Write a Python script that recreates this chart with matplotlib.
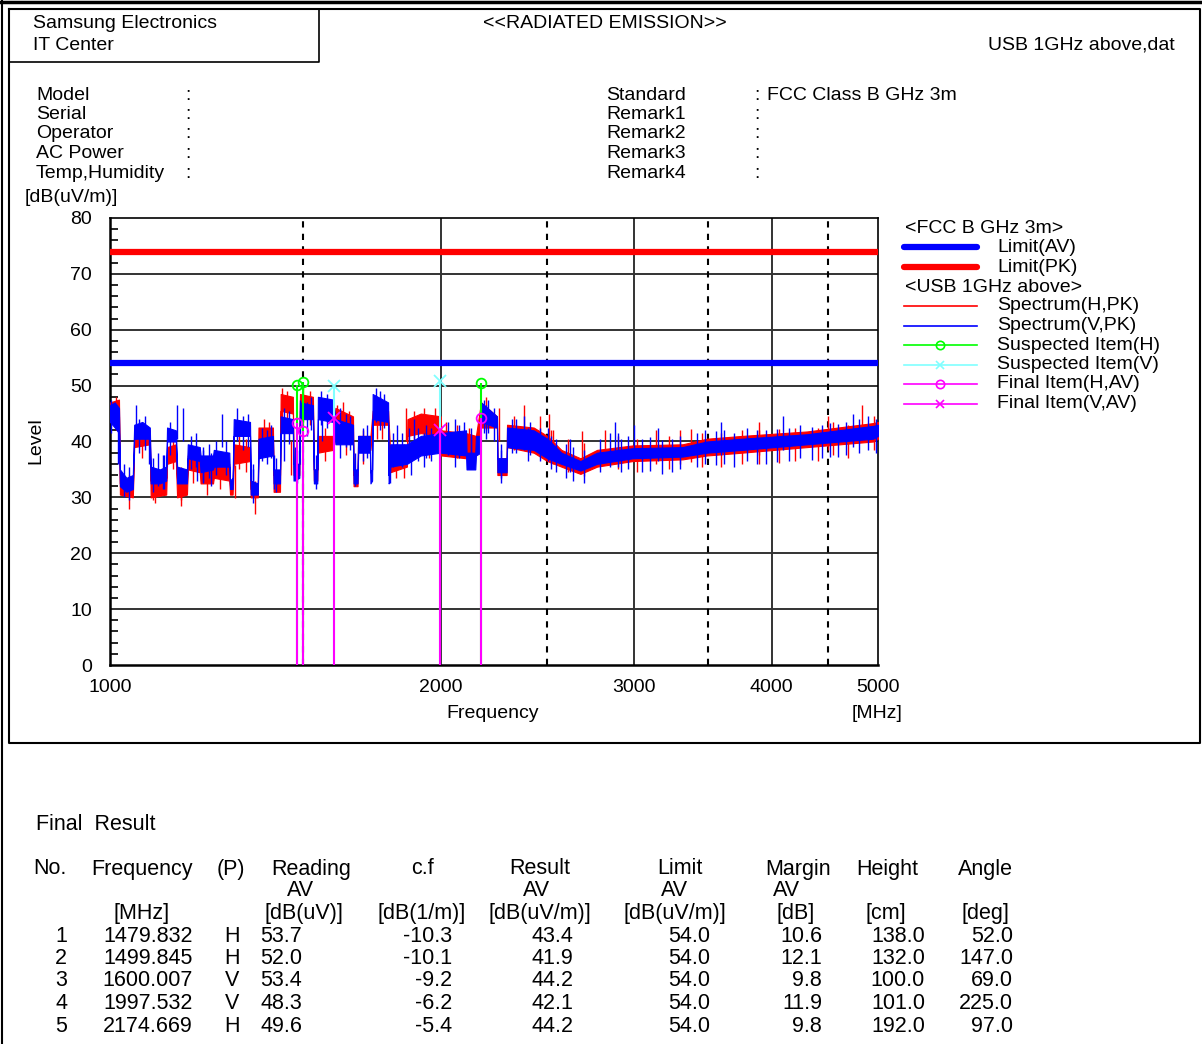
"""
radiated_emission.py — FCC Class B (1 GHz above) radiated emission report chart
"""
import matplotlib
matplotlib.use("Agg")
import matplotlib.pyplot as plt
from matplotlib.lines import Line2D
from matplotlib.ticker import FixedLocator, NullFormatter, NullLocator

# ===========================================================
# Style
# ===========================================================
BLUE    = '#0000FF'
RED     = '#FF0000'
GREEN   = '#00FF00'
CYAN    = '#80FFFF'
MAGENTA = '#FF00FF'
GRID    = '#333333'

plt.rcParams['font.family'] = ['Liberation Sans', 'DejaVu Sans']

W, H = 1202, 1044

# ===========================================================
# Data
# ===========================================================
limit_av = 54.0
limit_pk = 74.0

# Spectrum (V, PK) : frequency [MHz], lower / upper edge of the trace [dB(uV/m)]
freq_v = [1000, 1010, 1019, 1021, 1035, 1049, 1052, 1070, 1087, 1089, 1110, 1125,
          1127, 1148, 1151, 1175, 1177, 1207, 1209, 1241, 1243, 1284, 1286, 1293,
          1296, 1341, 1343, 1363, 1365, 1407, 1409, 1428, 1430, 1467, 1469, 1487,
          1489, 1530, 1533, 1544, 1546, 1596, 1604, 1664, 1666, 1680, 1682, 1724,
          1726, 1732, 1734, 1791, 1793, 1797, 1799, 1863, 1918, 2000, 2109, 2111,
          2150, 2153, 2174, 2176, 2250, 2252, 2296, 2298, 2430, 2500, 2575, 2680,
          2775, 2990, 3320, 3494, 3760, 4310, 4950, 5000]
v_lo = [43.5, 42.5, 41.5, 32.0, 31.0, 31.5, 40.5, 40.5, 40.5, 32.5, 32.5, 33.0,
        40.0, 40.0, 32.5, 32.5, 37.0, 36.5, 34.5, 35.0, 35.5, 35.5, 31.5, 31.5,
        41.0, 41.0, 30.5, 30.5, 37.0, 37.5, 32.5, 32.5, 41.5, 41.5, 33.0, 33.5,
        44.0, 44.0, 32.5, 32.5, 44.0, 43.5, 39.5, 39.5, 32.5, 32.5, 38.0, 38.0,
        32.5, 33.0, 44.0, 43.5, 32.5, 33.0, 35.5, 36.0, 37.5, 38.0, 37.5, 35.0,
        35.0, 37.5, 38.0, 43.5, 42.5, 34.5, 34.5, 39.0, 38.5, 37.0, 36.0, 34.8,
        36.0, 37.0, 37.3, 38.0, 38.5, 39.5, 40.5, 41.0]
v_hi = [46.5, 47.0, 46.0, 35.0, 33.5, 34.0, 43.0, 43.5, 42.5, 35.5, 35.0, 35.5,
        42.5, 42.0, 35.5, 35.0, 39.5, 39.0, 37.5, 37.5, 38.5, 38.0, 33.0, 33.5,
        44.0, 43.5, 33.0, 32.5, 40.5, 41.0, 35.0, 35.0, 44.5, 44.0, 36.0, 36.0,
        47.0, 46.5, 35.0, 35.0, 48.0, 47.5, 44.0, 43.0, 35.0, 35.0, 41.0, 41.0,
        34.5, 35.0, 48.5, 47.0, 34.0, 35.0, 39.5, 39.5, 41.0, 41.5, 42.0, 38.0,
        38.0, 41.0, 41.0, 47.0, 44.5, 37.0, 37.0, 42.5, 42.0, 40.5, 38.0, 36.5,
        38.0, 38.8, 39.0, 40.0, 40.5, 41.3, 42.8, 43.0]

# Spectrum (H, PK)
freq_h = [1000, 1019, 1021, 1049, 1052, 1087, 1089, 1125, 1127, 1148, 1151, 1175,
          1177, 1207, 1209, 1241, 1243, 1284, 1286, 1293, 1296, 1341, 1343, 1363,
          1365, 1407, 1409, 1428, 1430, 1467, 1469, 1487, 1489, 1530, 1533, 1544,
          1546, 1596, 1604, 1664, 1666, 1680, 1682, 1726, 1734, 1791, 1799, 1863,
          1865, 1918, 2000, 2002, 2109, 2153, 2176, 2250, 2252, 2296, 2298, 2430,
          2500, 2575, 2680, 2775, 2990, 3320, 3494, 3760, 4310, 4950, 5000]
h_lo = [44.0, 44.5, 30.5, 30.0, 39.0, 39.5, 30.0, 30.5, 36.0, 36.5, 30.0, 30.5,
        35.0, 34.5, 32.5, 32.5, 33.5, 33.0, 30.5, 30.5, 36.0, 36.5, 30.0, 30.0,
        40.0, 40.0, 31.0, 31.0, 45.5, 45.0, 34.0, 34.0, 45.5, 45.0, 33.0, 33.0,
        38.0, 38.5, 41.0, 40.5, 32.0, 32.0, 38.5, 38.5, 43.0, 43.0, 34.5, 35.5,
        41.0, 41.5, 41.0, 37.5, 37.0, 37.5, 42.5, 42.5, 34.0, 34.0, 39.0, 38.0,
        36.5, 35.5, 34.2, 35.5, 36.5, 36.8, 37.5, 38.0, 39.0, 40.0, 40.5]
h_hi = [47.0, 47.5, 32.5, 32.0, 41.5, 42.0, 33.0, 33.5, 39.0, 39.5, 33.0, 33.0,
        37.5, 37.0, 35.0, 35.0, 36.5, 36.0, 32.0, 32.5, 39.5, 39.0, 31.5, 31.5,
        42.5, 42.5, 34.0, 34.0, 48.5, 48.0, 36.0, 36.0, 48.5, 48.0, 35.0, 35.0,
        41.0, 41.0, 46.0, 44.5, 34.0, 34.0, 41.0, 41.0, 45.5, 45.5, 38.0, 38.0,
        44.0, 45.0, 44.5, 42.0, 41.5, 41.0, 47.0, 44.5, 37.0, 37.0, 43.0, 42.5,
        41.0, 38.5, 37.0, 38.5, 39.3, 39.5, 40.5, 41.0, 41.8, 43.3, 43.5]

# Narrow peaks above the V trace
up_v_f = [1003, 1030, 1040, 1056, 1062, 1075, 1095, 1105, 1118, 1135, 1151, 1165,
          1185, 1197, 1215, 1230, 1250, 1264, 1275, 1306, 1322, 1335, 1350, 1375,
          1390, 1400, 1415, 1440, 1455, 1475, 1490, 1512, 1525, 1555, 1575, 1620,
          1640, 1655, 1700, 1715, 1745, 1760, 1775, 1810, 1825, 1845, 1870, 1890,
          1905, 1940, 1960, 2030, 2060, 2080, 2100, 2130, 2190, 2210, 2235, 2270,
          2320, 2340, 2380, 2410, 2460, 2505, 2520, 2545, 2600, 2640, 2700, 2790,
          2850, 2880, 2920, 2960, 3000, 3050, 3100, 3180, 3250, 3300, 3420, 3480,
          3560, 3620, 3700, 3800, 3880, 3950, 4050, 4150, 4250, 4350, 4450, 4520,
          4600, 4680, 4740, 4800, 4900, 4980]
up_v_l = [47.5, 36.0, 35.5, 46.5, 44.0, 44.5, 37.0, 38.0, 37.5, 43.5, 46.5, 46.0,
          41.0, 41.5, 39.0, 39.5, 40.0, 45.0, 40.0, 46.0, 44.5, 45.0, 35.0, 42.5,
          42.0, 43.0, 37.0, 46.0, 45.5, 39.0, 47.5, 47.0, 48.0, 49.0, 48.5, 46.0,
          45.0, 44.5, 42.5, 43.0, 49.5, 49.0, 48.5, 41.5, 43.0, 41.5, 42.5, 44.0,
          42.5, 43.0, 42.5, 43.5, 44.0, 43.0, 43.5, 42.5, 47.5, 47.5, 46.0, 38.5,
          44.0, 44.0, 44.5, 43.5, 42.5, 42.5, 41.0, 40.5, 39.5, 39.0, 38.5, 40.5,
          41.5, 43.5, 40.5, 41.0, 43.0, 40.5, 40.8, 40.2, 40.5, 41.0, 41.5, 42.0,
          41.8, 42.0, 41.5, 42.5, 42.0, 42.0, 42.3, 42.5, 43.0, 42.6, 43.0, 43.3,
          43.2, 43.5, 45.0, 44.0, 44.5, 44.0]
# Narrow dips below the V trace
dn_v_f = [1017, 1085, 1120, 1200, 1215, 1236, 1350, 1410, 1440, 1480, 1540, 1560,
          1620, 1670, 1760, 1800, 1880, 1930, 2060, 2130, 2200, 2270, 2400, 2620,
          2900, 3150, 3600, 4100]
dn_v_l = [36.0, 36.0, 31.5, 33.0, 32.5, 32.0, 30.0, 31.5, 36.5, 32.5, 31.5, 40.0,
          37.0, 32.0, 42.0, 32.5, 34.0, 35.5, 35.5, 35.0, 40.5, 33.5, 36.5, 34.5,
          35.5, 36.5, 37.5, 38.5]

# Narrow peaks / dips of the H trace
up_h_f = [1013, 1040, 1070, 1100, 1140, 1160, 1190, 1225, 1260, 1310, 1330, 1355,
          1380, 1395, 1435, 1450, 1500, 1520, 1570, 1610, 1630, 1650, 1700, 1750,
          1770, 1820, 1850, 1860, 1890, 1930, 1975, 2020, 2070, 2120, 2200, 2260,
          2330, 2380, 2460, 2510, 2530, 2610, 2690, 2820, 2900, 3020, 3140, 3230,
          3380, 3460, 3600, 3760, 3900, 4060, 4200, 4410, 4550, 4700, 4836, 4960]
up_h_l = [48.0, 34.0, 43.0, 35.0, 41.0, 34.5, 38.5, 36.5, 37.5, 41.0, 40.5, 33.0,
          44.0, 43.5, 49.5, 49.0, 49.5, 49.0, 42.5, 46.5, 47.0, 45.5, 42.0, 46.5,
          46.5, 39.5, 39.5, 46.0, 45.5, 46.0, 46.0, 43.5, 43.0, 42.5, 48.0, 46.0,
          44.5, 46.5, 44.5, 45.0, 42.0, 40.5, 41.8, 42.0, 41.0, 40.5, 42.0, 41.0,
          42.3, 41.5, 41.5, 42.0, 42.0, 42.2, 42.5, 42.5, 43.5, 43.0, 46.5, 44.5]
dn_h_f = [1095, 1160, 1300, 1460, 1640, 1950, 2520, 2700, 3300, 3900, 4500]
dn_h_l = [29.5, 29.5, 29.8, 34.0, 37.5, 37.0, 36.0, 33.8, 36.0, 37.5, 38.5]

# Suspected items (peak)
susp_h_f = [1479.832, 1499.845, 2174.669]
susp_h_l = [50.2, 50.7, 50.5]
susp_v_f = [1600.007, 1997.532]
susp_v_l = [50.0, 50.8]

# Final result table
res_no     = ['1', '2', '3', '4', '5']
res_freq   = [1479.832, 1499.845, 1600.007, 1997.532, 2174.669]
res_pol    = ['H', 'H', 'V', 'V', 'H']
res_read   = [53.7, 52.0, 53.4, 48.3, 49.6]
res_cf     = [-10.3, -10.1, -9.2, -6.2, -5.4]
res_result = [43.4, 41.9, 44.2, 42.1, 44.2]
res_limit  = [54.0, 54.0, 54.0, 54.0, 54.0]
res_margin = [10.6, 12.1, 9.8, 11.9, 9.8]
res_height = [138.0, 132.0, 100.0, 101.0, 192.0]
res_angle  = [52.0, 147.0, 69.0, 225.0, 97.0]

x_ticks = [1000, 2000, 3000, 4000, 5000]
x_solid = [2000, 3000, 4000]
x_dash  = [1500, 2500, 3500, 4500]
y_ticks = [0, 10, 20, 30, 40, 50, 60, 70, 80]


# ===========================================================
# Helpers (pixel positions of the report layout)
# ===========================================================
def fx(x):
    return x / W


def fy(y):
    return 1 - y / H


def ftext(x, y, s, size=14, ha='left', va='center', **kw):
    fig.text(fx(x), fy(y), s, fontsize=size, ha=ha, va=va, color='black', **kw)


def fline(xs, ys, **kw):
    fig.add_artist(Line2D([fx(v) for v in xs], [fy(v) for v in ys], **kw))


fig = plt.figure(figsize=(W / 100, H / 100), dpi=100)
fig.patch.set_facecolor('white')

# ===========================================================
# Report frame and header
# ===========================================================
fline([2, 2], [0, H], color='black', lw=1.5)
fline([0, W], [1.5, 1.5], color='black', lw=2.5)
fline([9, 1200, 1200, 9, 9], [9, 9, 743, 743, 9], color='black', lw=1.5)
fline([9, 319, 319], [62, 62, 9], color='black', lw=1.2)

ftext(33, 24, 'Samsung Electronics')
ftext(33, 45, 'IT Center')
ftext(605, 24, '<<RADIATED EMISSION>>', ha='center')
ftext(1175, 45, 'USB 1GHz above,dat', ha='right')

for i, lab in enumerate(['Model', 'Serial', 'Operator', 'AC Power', 'Temp,Humidity']):
    ftext(36, 95 + i * 19.5, lab)
    ftext(185, 95 + i * 19.5, ':')
for i, lab in enumerate(['Standard', 'Remark1', 'Remark2', 'Remark3', 'Remark4']):
    ftext(606, 95 + i * 19.5, lab)
    ftext(754, 95 + i * 19.5, ':')
ftext(767, 95, 'FCC Class B GHz 3m')

ftext(25, 198, '[dB(uV/m)]')
ftext(36, 441, 'Level', rotation=90, ha='center')

# ===========================================================
# Chart
# ===========================================================
ax = fig.add_axes([fx(110), fy(665), 768 / W, 447 / H])
ax.set_xscale('log')
ax.set_xlim(1000, 5000)
ax.set_ylim(0, 80)

for yv in y_ticks[1:-1]:
    ax.axhline(yv, color=GRID, lw=1.4, zorder=1)
for xv in x_solid:
    ax.axvline(xv, color=GRID, lw=1.4, zorder=1)
for xv in x_dash:
    ax.axvline(xv, color='black', lw=1.5, ls=(0, (3, 3)), zorder=1)

# limits
ax.axhline(limit_pk, color=RED, lw=4.5, zorder=3)
ax.axhline(limit_av, color=BLUE, lw=4.5, zorder=3)

# spectrum H (red) then V (blue)
ax.fill_between(freq_h, h_lo, h_hi, color=RED, lw=0.8, edgecolor=RED, zorder=4)
ax.vlines(up_h_f, [l - 6 for l in up_h_l], up_h_l, color=RED, lw=1.0, zorder=4)
ax.vlines(dn_h_f, dn_h_l, [l + 6 for l in dn_h_l], color=RED, lw=1.0, zorder=4)
ax.fill_between(freq_v, v_lo, v_hi, color=BLUE, lw=0.8, edgecolor=BLUE, zorder=5)
ax.vlines(up_v_f, [l - 6 for l in up_v_l], up_v_l, color=BLUE, lw=1.0, zorder=5)
ax.vlines(dn_v_f, dn_v_l, [l + 6 for l in dn_v_l], color=BLUE, lw=1.0, zorder=5)

# suspected items
ax.vlines(susp_h_f, 0, susp_h_l, color=GREEN, lw=1.5, zorder=6)
ax.plot(susp_h_f, susp_h_l, ls='none', marker='o', ms=7, mfc='none', mec=GREEN, mew=1.3, zorder=7)
ax.vlines(susp_v_f, 0, susp_v_l, color=CYAN, lw=1.5, zorder=6)
ax.plot(susp_v_f, susp_v_l, ls='none', marker='x', ms=8, mec=CYAN, mew=1.3, zorder=7)

# final items
fin_h = [(f, r) for f, r, p in zip(res_freq, res_result, res_pol) if p == 'H']
fin_v = [(f, r) for f, r, p in zip(res_freq, res_result, res_pol) if p == 'V']
ax.vlines([f for f, _ in fin_h + fin_v], 0, [r for _, r in fin_h + fin_v], color=MAGENTA, lw=1.5, zorder=8)
ax.plot([f for f, _ in fin_h], [r for _, r in fin_h], ls='none', marker='o', ms=7,
        mfc='none', mec=MAGENTA, mew=1.3, zorder=9)
ax.plot([f for f, _ in fin_v], [r for _, r in fin_v], ls='none', marker='x', ms=8,
        mec=MAGENTA, mew=1.3, zorder=9)

for spine in ax.spines.values():
    spine.set_color('black')
    spine.set_linewidth(1.8)
ax.spines['top'].set_linewidth(1.2)
ax.spines['right'].set_linewidth(1.2)

ax.xaxis.set_major_locator(NullLocator())
ax.xaxis.set_minor_locator(NullLocator())
ax.yaxis.set_major_locator(FixedLocator(y_ticks))
ax.yaxis.set_minor_locator(FixedLocator([v for v in range(2, 80, 2) if v % 10]))
ax.yaxis.set_minor_formatter(NullFormatter())
ax.tick_params(axis='y', which='major', length=0, pad=13, labelsize=14)
ax.tick_params(axis='y', which='minor', direction='in', length=6, width=1.2, color='black')
ax.set_yticklabels([str(v) for v in y_ticks])

for xv in x_ticks:
    ax.annotate(str(xv), (xv, 0), xytext=(0, -22), textcoords='offset pixels',
                ha='center', va='center', fontsize=14, annotation_clip=False)
ftext(493, 714, 'Frequency', ha='center')
ftext(877, 714, '[MHz]', ha='center')

# ===========================================================
# Legend (drawn at report positions)
# ===========================================================
ftext(905, 228, '<FCC B GHz 3m>')
fline([904, 977], [247, 247], color=BLUE, lw=4.5, solid_capstyle='round')
ftext(997, 247, 'Limit(AV)')
fline([904, 977], [267, 267], color=RED, lw=4.5, solid_capstyle='round')
ftext(997, 267, 'Limit(PK)')
ftext(905, 287, '<USB 1GHz above>')
leg_items = [
    (RED, None, 'Spectrum(H,PK)'),
    (BLUE, None, 'Spectrum(V,PK)'),
    (GREEN, 'o', 'Suspected Item(H)'),
    (CYAN, 'x', 'Suspected Item(V)'),
    (MAGENTA, 'o', 'Final Item(H,AV)'),
    (MAGENTA, 'x', 'Final Item(V,AV)'),
]
for i, (c, m, lab) in enumerate(leg_items):
    yy = 306 + i * 19.5
    fline([904, 977], [yy, yy], color=c, lw=1.2)
    if m:
        fig.add_artist(Line2D([fx(940)], [fy(yy)], ls='none', marker=m, ms=6,
                              mfc='none', mec=c, mew=1.2))
    ftext(997, yy, lab)

# ===========================================================
# Final result table
# ===========================================================
TS = 15.5
ftext(36, 824, 'Final  Result', size=TS)

col_head = [(50, 'No.', '', ''), (142, 'Frequency', '', '[MHz]'),
            (231, '(P)', '', ''), (311, 'Reading', 'AV', '[dB(uV)]'),
            (422, 'c.f', '', '[dB(1/m)]'), (540, 'Result', 'AV', '[dB(uV/m)]'),
            (680, 'Limit', 'AV', '[dB(uV/m)]'), (798, 'Margin', 'AV', '[dB]'),
            (887, 'Height', '', '[cm]'), (985, 'Angle', '', '[deg]')]
av_x = {311: 301, 540: 537, 680: 675, 798: 787}
unit_x = {311: 304, 680: 675, 798: 796, 887: 886}
for cx, h1, h2, h3 in col_head:
    ftext(cx, 869, h1, size=TS, ha='center')
    if h2:
        ftext(av_x[cx], 890, h2, size=TS, ha='center')
    if h3:
        ftext(unit_x.get(cx, cx), 913, h3, size=TS, ha='center')

for i in range(len(res_no)):
    yy = 936 + i * 22.5
    ftext(67, yy, res_no[i], size=TS, ha='right')
    ftext(193, yy, f'{res_freq[i]:.3f}', size=TS, ha='right')
    ftext(232, yy, res_pol[i], size=TS, ha='center')
    ftext(302, yy, f'{res_read[i]:.1f}', size=TS, ha='right')
    ftext(452, yy, f'{res_cf[i]:.1f}', size=TS, ha='right')
    ftext(573, yy, f'{res_result[i]:.1f}', size=TS, ha='right')
    ftext(710, yy, f'{res_limit[i]:.1f}', size=TS, ha='right')
    ftext(822, yy, f'{res_margin[i]:.1f}', size=TS, ha='right')
    ftext(925, yy, f'{res_height[i]:.1f}', size=TS, ha='right')
    ftext(1013, yy, f'{res_angle[i]:.1f}', size=TS, ha='right')

fig.savefig('out.png', dpi=100, facecolor='white')
